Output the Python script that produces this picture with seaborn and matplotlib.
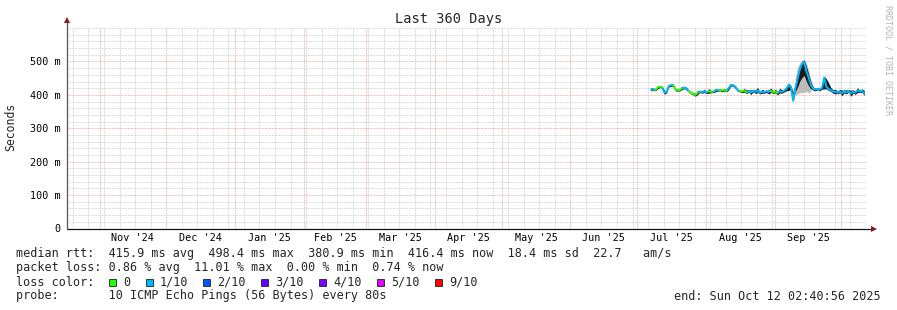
import matplotlib
matplotlib.use("Agg")
import matplotlib.pyplot as plt
import matplotlib.dates as mdates
import matplotlib.transforms as mtransforms
from matplotlib.patches import Rectangle
import numpy as np
import pandas as pd
import seaborn as sns

# ---------------- data ----------------
end_time = "2025-10-12 02:40:56"
span_days = 360
data_start = "2025-07-07 07:00"

median_ms = [416, 417, 415, 422, 425, 423, 407, 409, 427, 429,
             428, 416, 414, 415, 420, 422, 419, 411, 406, 403,
             400, 406, 410, 408, 411, 407, 411, 409, 410, 413,
             414, 415, 413, 414, 412, 420, 430, 429, 423, 414,
             412, 411, 413, 408, 411, 407, 412, 409, 413, 406,
             410, 408, 411, 409, 412, 407, 410, 406, 411, 409,
             413, 418, 430, 422, 383, 420, 448, 476, 492, 498,
             470, 452, 430, 419, 416, 418, 416, 421, 452, 424,
             418, 414, 410, 409, 407, 411, 405, 410, 408, 412,
             404, 409, 407, 413, 410, 412, 405]

loss_level = [1, 1, 0, 0, 0, 1, 1, 1, 1, 1,
              0, 0, 0, 0, 1, 1, 1, 0, 0, 0,
              0, 1, 1, 1, 1, 1, 0, 0, 1, 1,
              1, 0, 0, 0, 1, 1, 1, 1, 1, 1,
              0, 0, 0, 1, 1, 1, 1, 1, 1, 1,
              1, 1, 1, 1, 0, 0, 0, 1, 1, 1,
              1, 1, 1, 1, 1, 1, 1, 1, 1, 1,
              1, 1, 1, 1, 1, 1, 1, 1, 1, 1,
              1, 1, 1, 1, 1, 1, 1, 1, 1, 1,
              1, 1, 1, 1, 1, 1, 1]

smoke_up_ms = [6, 3, 4, 5, 3, 4, 7, 3, 4, 3,
               5, 3, 4, 3, 6, 3, 4, 3, 3, 4,
               5, 7, 3, 4, 6, 3, 8, 4, 3, 6,
               3, 4, 3, 5, 4, 6, 4, 3, 5, 3,
               4, 3, 6, 7, 4, 8, 5, 6, 9, 4,
               7, 5, 3, 6, 8, 5, 7, 4, 9, 6,
               5, 8, 5, 6, 25, 15, 15, 12, 8, 6,
               15, 10, 10, 5, 4, 5, 3, 6, 4, 24,
               18, 8, 5, 8, 4, 6, 9, 5, 7, 4,
               10, 6, 5, 8, 4, 6, 9]

smoke_dn_ms = [4, 3, 3, 4, 3, 3, 5, 3, 3, 4,
               3, 4, 3, 3, 4, 3, 5, 3, 3, 3,
               4, 5, 3, 3, 4, 3, 6, 3, 3, 4,
               3, 3, 4, 3, 3, 5, 3, 4, 3, 3,
               3, 4, 5, 4, 3, 6, 3, 5, 6, 3,
               5, 3, 4, 6, 5, 3, 4, 6, 5, 4,
               4, 6, 16, 8, 3, 10, 25, 35, 40, 40,
               30, 25, 12, 5, 4, 3, 4, 4, 34, 6,
               5, 4, 5, 6, 3, 5, 7, 4, 5, 3,
               8, 4, 5, 6, 3, 5, 6]

haze_index = [65, 66, 67, 68, 69, 70, 71, 72]
haze_up_ms = [30, 35, 20, 12, 10, 25, 20, 15]
haze_dn_ms = [20, 45, 70, 85, 90, 60, 45, 20]

month_labels = ["Nov '24", "Dec '24", "Jan '25", "Feb '25", "Mar '25", "Apr '25",
                "May '25", "Jun '25", "Jul '25", "Aug '25", "Sep '25"]
month_starts = ["2024-11-01", "2024-12-01", "2025-01-01", "2025-02-01", "2025-03-01",
                "2025-04-01", "2025-05-01", "2025-06-01", "2025-07-01", "2025-08-01",
                "2025-09-01", "2025-10-01"]
y_ticks = [0.0, 0.1, 0.2, 0.3, 0.4, 0.5]
y_tick_labels = ["0", "100 m", "200 m", "300 m", "400 m", "500 m"]

loss_labels = ["0", "1/10", "2/10", "3/10", "4/10", "5/10", "9/10"]
loss_colors = ["#26ff00", "#00b8ff", "#0059ff", "#5e00ff", "#7e00ff", "#dd00ff", "#ff0000"]

stats_line1 = "median rtt:  415.9 ms avg  498.4 ms max  380.9 ms min  416.4 ms now  18.4 ms sd  22.7   am/s"
stats_line2 = "packet loss: 0.86 % avg  11.01 % max  0.00 % min  0.74 % now"
probe_text = "probe:       10 ICMP Echo Pings (56 Bytes) every 80s"
end_text = "end: Sun Oct 12 02:40:56 2025"
title_text = "Last 360 Days"

assert len(median_ms) == len(loss_level) == len(smoke_up_ms) == len(smoke_dn_ms)

# ---------------- figure ----------------
W, H = 897, 310
sns.set_theme(style="white")
plt.rcParams["font.family"] = ["DejaVu Sans Mono", "DejaVu Sans"]

fig = plt.figure(figsize=(W / 100, H / 100), dpi=100)
fig.patch.set_facecolor("white")

ax_l, ax_r = 66.5, 866.0
ax_b, ax_t = 228.5, 28.1
ax = fig.add_axes([ax_l / W, (H - ax_b) / H, (ax_r - ax_l) / W, (ax_b - ax_t) / H])
ax.set_facecolor("white")

def px(x, y):
    return x / W, 1 - y / H

t_end = pd.Timestamp(end_time)
t_start = t_end - pd.Timedelta(days=span_days)
dates = pd.date_range(data_start, periods=len(median_ms), freq="D")
med = np.array(median_ms) / 1000.0

# smoke
ax.fill_between(dates[haze_index],
                med[haze_index] - np.array(haze_dn_ms) / 1000.0,
                med[haze_index] + np.array(haze_up_ms) / 1000.0,
                color="#bdbdbd", lw=0, zorder=2)
ax.fill_between(dates, med - np.array(smoke_dn_ms) / 1000.0,
                med + np.array(smoke_up_ms) / 1000.0,
                color="#1c1c1c", lw=0, zorder=3)

# median line coloured by loss (segments)
rows = []
seg = 0
n = len(median_ms)
i = 0
while i < n:
    j = i
    while j + 1 < n and loss_level[j + 1] == loss_level[i]:
        j += 1
    stop = min(j + 1, n - 1)
    for k in range(i, stop + 1):
        rows.append(dict(date=dates[k], rtt=med[k], loss=loss_labels[loss_level[i]], seg=seg))
    seg += 1
    i = j + 1
df = pd.DataFrame(rows)
sns.lineplot(data=df, x="date", y="rtt", hue="loss", units="seg", estimator=None,
             palette=dict(zip(loss_labels, loss_colors)), legend=False,
             linewidth=1.4, sort=False, ax=ax, zorder=4)

# axes limits, grid
ax.set_xlim(t_start, t_end)
ax.set_ylim(0, 0.6)
ax.set_xlabel("")
ax.set_ylabel("")
for s in ax.spines.values():
    s.set_visible(False)

dot = (0, (0.72, 0.72))
ax.xaxis.set_major_locator(mdates.MonthLocator())
ax.xaxis.set_minor_locator(mdates.WeekdayLocator(byweekday=mdates.SU))
ax.xaxis.set_major_formatter(plt.NullFormatter())
ax.set_yticks(y_ticks)
ax.set_yticklabels(y_tick_labels)
ax.yaxis.set_minor_locator(matplotlib.ticker.MultipleLocator(0.02))
ax.grid(which="minor", axis="both", color="#cfcfcf", linestyle=dot, linewidth=0.72, zorder=0)
ax.grid(which="major", axis="both", color="#f2a8a8", linestyle=dot, linewidth=0.72, zorder=1)
ax.set_axisbelow(True)
ax.tick_params(axis="y", which="major", direction="out", length=2.2, width=0.72,
               color="#444444", pad=1.8, labelsize=7.3, labelcolor="black")
ax.tick_params(axis="x", which="major", direction="out", length=2.2, width=0.72,
               color="#9a3030", labelsize=7.3)
ax.tick_params(which="minor", length=1.2, width=0.72, direction="inout", color="#888888")
for lab in ax.get_yticklabels():
    lab.set_fontfamily(["DejaVu Sans Mono"])

# month labels centred mid-month
trans = mtransforms.blended_transform_factory(ax.transData, fig.transFigure)
ms = [pd.Timestamp(m) for m in month_starts]
for lab, a, b in zip(month_labels, ms[:-1], ms[1:]):
    mid = a + (b - a) / 2
    ax.text(mdates.date2num(mid), 1 - 241.0 / H, lab, transform=trans, ha="center",
            va="baseline", fontsize=7.3, color="black")

# axis lines with arrows
ax.plot([0, 0], [0, 1.036], transform=ax.transAxes, color="#555555", lw=0.9,
        clip_on=False, zorder=6, solid_capstyle="butt")
ax.plot([0, 1.0085], [0, 0], transform=ax.transAxes, color="#111111", lw=0.9,
        clip_on=False, zorder=6, solid_capstyle="butt")
ax.plot([0], [1.038], marker="^", ms=4.2, color="#8b1a1a", transform=ax.transAxes,
        clip_on=False, zorder=7, mew=0)
ax.plot([1.0095], [0], marker=">", ms=4.2, color="#8b1a1a", transform=ax.transAxes,
        clip_on=False, zorder=7, mew=0)

# texts
fig.text(*px(448.5, 23.5), title_text, ha="center", va="baseline", fontsize=9.8)
fig.text(*px(11, 127), "Seconds", rotation=90, ha="center", va="center", fontsize=8.3)
fig.text(*px(888, 5), "RRDTOOL / TOBI OETIKER", rotation=270, ha="center", va="top",
         fontsize=6.0, color="#b4b4b4")

fs = 8.5
fig.text(*px(16, 257.5), stats_line1, ha="left", va="baseline", fontsize=fs)
fig.text(*px(16, 271.5), stats_line2, ha="left", va="baseline", fontsize=fs)
fig.text(*px(16, 285.5), "loss color:", ha="left", va="baseline", fontsize=fs)
fig.text(*px(16, 299.5), probe_text, ha="left", va="baseline", fontsize=fs)
fig.text(*px(881, 299.5), end_text, ha="right", va="baseline", fontsize=fs)

box_x = [109, 145.5, 203, 261, 319, 377, 435]
for bx, lab, col in zip(box_x, loss_labels, loss_colors):
    x0, y0 = px(bx, 285.5)
    fig.patches.append(Rectangle((x0, y0), 7 / W, 7 / H, transform=fig.transFigure,
                                 facecolor=col, edgecolor="#202020", linewidth=0.6))
    fig.text(*px(bx + 14, 285.5), lab, ha="left", va="baseline", fontsize=fs)

fig.savefig("out.png", dpi=100, facecolor="white")
